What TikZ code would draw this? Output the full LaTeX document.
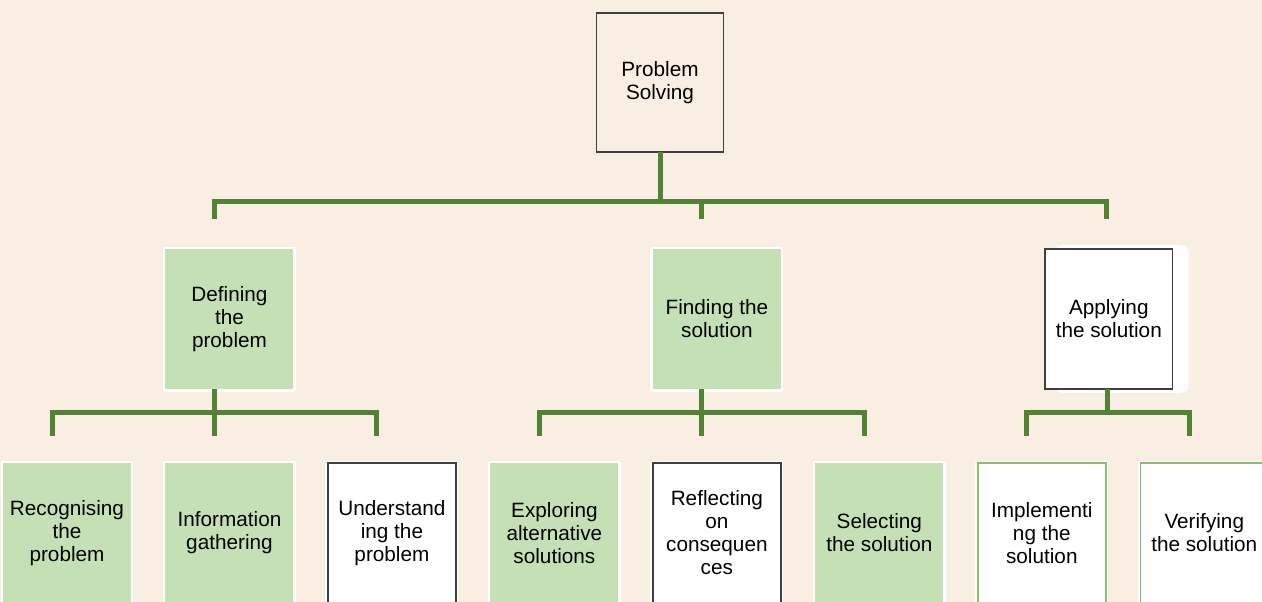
\documentclass[tikz,border=0pt]{standalone}
\usepackage{fontspec}
\setmainfont{Liberation Sans}
\usetikzlibrary{positioning, calc}
\pgfdeclarelayer{background}
\pgfsetlayers{background,main}
\definecolor{paper}{HTML}{F8EEE1}
\definecolor{leafgreen}{HTML}{C5E0B4}
\definecolor{treegreen}{HTML}{548235}
\definecolor{rimgreen}{HTML}{8CBC72}
\definecolor{rimgrey}{HTML}{3F3F3F}
\tikzset{
    halo/.style={preaction={draw=white, line width=0.1cm, line join=round}},
    stage/.style={rectangle, inner sep=0pt, outer sep=0pt, minimum width=2.56cm, minimum height=2.8cm,
        align=center, font=\fontsize{11.8}{13.1}\selectfont},
    filled/.style={stage, fill=leafgreen, halo},
    outlined/.style={stage, draw=rimgrey, line width=0.8pt, fill=white},
    rimmed/.style={stage, draw=rimgreen, line width=0.8pt, fill=white, halo},
    branch/.style={draw=treegreen, line width=0.1cm},
}

\begin{document}
\begin{tikzpicture}[x=0.02cm, y=0.02cm]
    \tikzset{
      node distance=0.69cm
    }
    \useasboundingbox (0,0) rectangle (1262,602);

    \node[stage, draw=rimgrey, line width=0.6pt, minimum width=2.54cm, minimum height=2.78cm] (root) at (660,519.5) {Problem\\Solving};

    \node[filled] (rec) at (67,69) {Recognising\\the\\problem};
    \node[filled, right=of rec] (info) {Information\\gathering};
    \node[outlined, halo, right=of info] (und) {Understand\\ing the\\problem};
    \node[filled, right=of und] (exp) {Exploring\\alternative\\solutions};
    \node[outlined, halo, right=of exp] (refl) {Reflecting\\on\\consequen\\ces};
    \node[filled, right=of refl] (sel) {Selecting\\the solution};
    \node[rimmed, right=of sel] (impl) {Implementi\\ng the\\solution};
    \node[rimmed, right=of impl] (ver) {Verifying\\the solution};

    \node[filled, above=1.48cm of info] (def) {Defining\\the\\problem};
    \node[filled, above=1.48cm of refl] (find) {Finding the\\solution};
    \node[outlined, right=5.28cm of find] (apply) {Applying\\the solution};

    \begin{pgfonlayer}{background}
      \fill[paper] (0,0) rectangle (1262,602);
      \fill[white, rounded corners=5pt] ([shift={(10,-4)}]apply.south west) rectangle ([shift={(16,4)}]apply.north east);
    \end{pgfonlayer}

    \draw[branch] (root.south) -- ++(0,-48);
    \draw[branch] ([shift={(-15,30)}]def.north) -- ++(0,18) -| ([shift={(-2,30)}]apply.north);
    \draw[branch] ([shift={(-15,30)}]find.north) -- ++(0,18);

    \foreach \p/\a/\b/\c in {def/rec/info/und, find/exp/refl/sel} {
      \draw[branch] ([shift={(-15,0)}]\p.south) -- ++(0,-24);
      \draw[branch] ([shift={(-15,27)}]\a.north) -- ++(0,24) -| ([shift={(-15,27)}]\c.north);
      \draw[branch] ([shift={(-15,27)}]\b.north) -- ++(0,24);
    }
    \draw[branch] ([shift={(-1,0)}]apply.south) -- ++(0,-24);
    \draw[branch] ([shift={(-15,27)}]impl.north) -- ++(0,24) -| ([shift={(-15,27)}]ver.north);
\end{tikzpicture}
\end{document}
